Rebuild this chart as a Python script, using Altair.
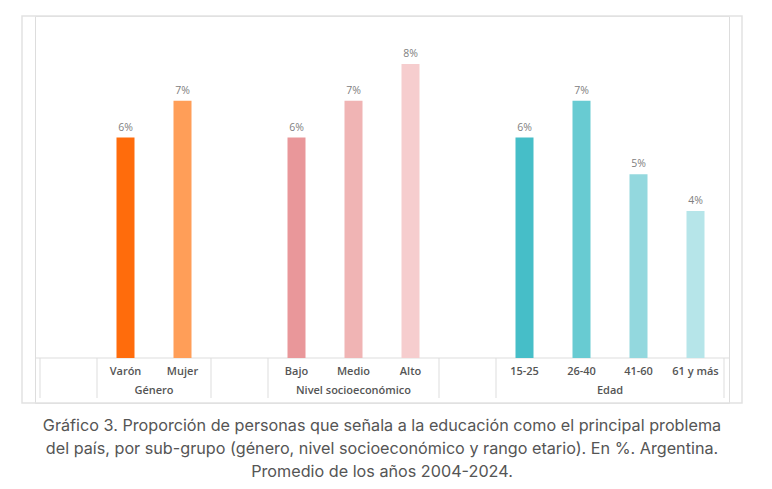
import altair as alt
import pandas as pd

# ---- data ----
groups = ["", "Género", "", "Nivel socioeconómico", "", "Edad"]
group_items = [
    [" "],
    ["Varón", "Mujer"],
    ["  "],
    ["Bajo", "Medio", "Alto"],
    ["   "],
    ["15-25", "26-40", "41-60", "61 y más"],
]
categories = ["Varón", "Mujer", "Bajo", "Medio", "Alto", "15-25", "26-40", "41-60", "61 y más"]
values = [6, 7, 6, 7, 8, 6, 7, 5, 4]
colors = ["#FF6C0C", "#FF9E58", "#E9979A", "#F0B4B4", "#F6CDCE",
          "#46BEC8", "#68CBD2", "#93D8DE", "#B6E5E9"]
caption = [
    "Gráfico 3. Proporción de personas que señala a la educación como el principal problema",
    "del país, por sub-grupo (género, nivel socioeconómico y rango etario). En %. Argentina.",
    "Promedio de los años 2004-2024.",
]

# ---- derived tables ----
slot_rows, group_rows, bounds = [], [], []
i = 0
for g, items in zip(groups, group_items):
    bounds.append(i)
    start = i
    for it in items:
        slot_rows.append({"cat": it, "pos": i + 0.5})
        i += 1
    if g:
        group_rows.append({"group": g, "pos": (start + i) / 2})
bounds.append(i)
nslots = i

slots = pd.DataFrame(slot_rows)
bars = pd.DataFrame({"cat": categories, "value": values})
bars = bars.merge(slots, on="cat")
bars["label"] = bars["value"].astype(str) + "%"
gdf = pd.DataFrame(group_rows)
bdf = pd.DataFrame({"b": bounds})

W, H = 694, 387
xs = alt.Scale(domain=[0, nslots], range=[0, W])
ys = alt.Scale(domain=[0, 342 / 36.75], range=[342, 0])
FONT = "Open Sans"

frame = alt.Chart(pd.DataFrame({"a": [0]})).mark_rect(
    fill=None, stroke="#e2e2e2", strokeWidth=1.5
).encode(x=alt.value(-13), x2=alt.value(707), y=alt.value(0), y2=alt.value(387))

hline = alt.Chart(pd.DataFrame({"a": [0]})).mark_rule(
    color="#dddddd", strokeWidth=1
).encode(x=alt.value(0), x2=alt.value(W), y=alt.value(342))

vlines = alt.Chart(bdf).mark_rule(color="#dddddd", strokeWidth=1).encode(
    x=alt.X("b:Q", scale=xs, axis=None),
    y=alt.value(342), y2=alt.value(382),
)

bar = alt.Chart(bars).mark_bar(width=18).encode(
    x=alt.X("pos:Q", scale=xs, axis=None),
    y=alt.Y("value:Q", scale=ys, axis=None),
    color=alt.Color("cat:N", scale=alt.Scale(domain=categories, range=colors), legend=None),
)

vlabels = alt.Chart(bars).mark_text(
    font=FONT, fontSize=10.5, color="#808080", baseline="bottom", dy=-5
).encode(
    x=alt.X("pos:Q", scale=xs, axis=None),
    y=alt.Y("value:Q", scale=ys, axis=None),
    text="label:N",
)

catlabels = alt.Chart(bars).mark_text(
    font=FONT, fontSize=11, fontWeight=600, color="#555555", baseline="middle"
).encode(
    x=alt.X("pos:Q", scale=xs, axis=None),
    y=alt.value(355.5),
    text="cat:N",
)

grplabels = alt.Chart(gdf).mark_text(
    font=FONT, fontSize=11, fontWeight=600, color="#555555", baseline="middle"
).encode(
    x=alt.X("pos:Q", scale=xs, axis=None),
    y=alt.value(375),
    text="group:N",
)

chart = alt.layer(frame, hline, vlines, bar, vlabels, catlabels, grplabels).properties(
    width=W, height=H,
    autosize=alt.AutoSizeParams(type="none"),
    padding={"left": 35, "top": 16, "right": 43, "bottom": 86},
    title=alt.TitleParams(
        text=caption, orient="bottom", anchor="middle", font="Inter",
        fontSize=16.2, fontWeight="normal", color="#555555", lineHeight=23, offset=14,
    ),
).configure_view(stroke=None).configure(background="white")

chart.save("out.html", embed_options={"renderer": "svg", "actions": False})
